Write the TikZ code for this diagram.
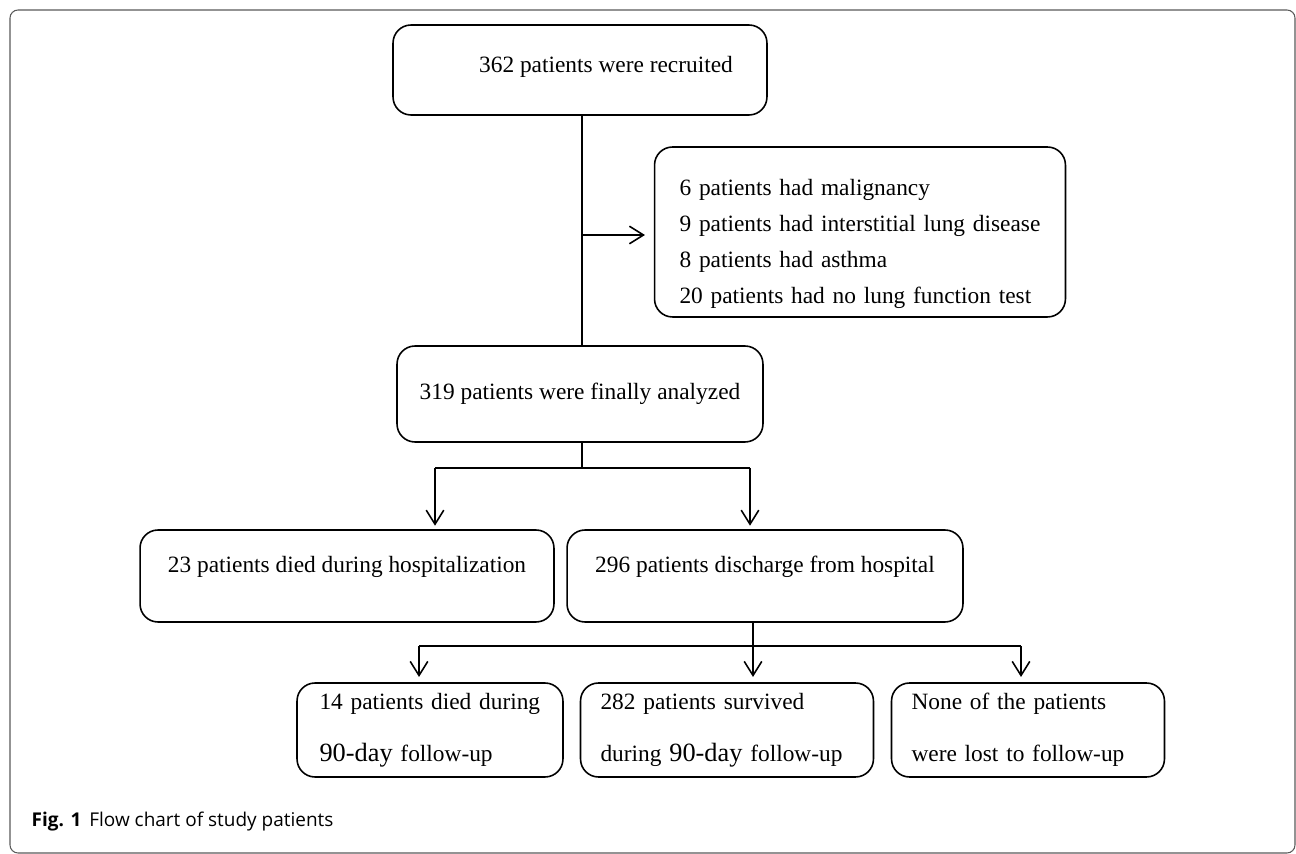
\documentclass[tikz,border=0pt]{standalone}
\usepackage{fontspec}
\setmainfont{Liberation Serif}
\newfontfamily\capfont{Open Sans}
\usetikzlibrary{arrows.meta}

\tikzset{ box/.style={draw, rounded corners=0.36cm, line width=0.9pt, inner sep=0pt, font=\fontsize{13.3}{20.4}\selectfont},
          twoline/.style={box, align=left, inner xsep=0.4cm, minimum height=1.88cm, font=\fontsize{13.3}{29.5}\selectfont} }
\newcommand{\ninetyday}{{\fontsize{15}{15}\selectfont 90-day}}

\begin{document}
\begin{tikzpicture}[x=0.02cm, y=-0.02cm, line width=0.9pt,
    every edge/.style={draw, line width=0.9pt, -{Straight Barb[length=8pt,width=10pt]}}]
        \useasboundingbox (0,0) rectangle (1296,854);
        \draw[black!65, line width=0.6pt, rounded corners=0.16cm] (10,10) rectangle (1295,853);

        \node[box, minimum width=7.48cm, minimum height=1.8cm, text height=0.3cm, text depth=0.2cm] (rec) at (580,70) {\hspace{1.04cm}362 patients were recruited};
        \node[box, minimum height=3.4cm, text width=7.22cm, inner xsep=0.5cm, align=left] (excl) at (860,232) {\rule{0pt}{0.8cm}6 patients had malignancy\\ 9 patients had interstitial lung disease\\ 8 patients had asthma\\ 20 patients had no lung function test};
        \node[box, minimum width=7.32cm, minimum height=1.92cm] (ana) at (580,394) {319 patients were finally analyzed};
        \node[box, minimum width=8.28cm, minimum height=1.84cm, text height=0.3cm, text depth=0.44cm] (hosp) at (347,576) {23 patients died during hospitalization};
        \node[box, minimum width=7.92cm, minimum height=1.84cm, text height=0.3cm, text depth=0.44cm] (disc) at (765,576) {296 patients discharge from hospital};
        \node[twoline, text width=4.42cm, inner xsep=0.45cm] (d90) at (430,730) {14 patients died during\\ \ninetyday{} follow-up};
        \node[twoline, text width=5.06cm] (s90) at (727,730) {282 patients survived\\ during \ninetyday{} follow-up};
        \node[twoline, text width=4.66cm] (lost) at (1028,730) {None of the patients\\ were lost to follow-up};

        \node[anchor=west, font=\capfont\fontsize{10.8}{12}\selectfont] (cap) at (25,822) {\textbf{Fig. 1}\hspace{0.16cm}Flow chart of study patients};

        \coordinate (sp1) at (582,235);
        \coordinate (sp2) at (582,468);
        \coordinate (l2) at (435,468);
        \coordinate (r2) at (750,468);
        \coordinate (sp3) at (753,646);
        \coordinate (l3) at (419,646);
        \coordinate (r3) at (1021,646);

        \draw (sp1 |- rec.south) -- (sp1 |- ana.north);
        \draw (sp2 |- ana.south) -- (sp2);
        \draw (l2) -- (r2);
        \draw (sp3 |- disc.south) -- (sp3);
        \draw (l3) -- (r3);

        \path (sp1) edge[shorten >=5pt] (sp1 -| excl.west)
              (l2) edge[shorten >=2pt] (l2 |- hosp.north)
              (r2) edge[shorten >=2pt] (r2 |- disc.north)
              (l3) edge[shorten >=3pt] (l3 |- d90.north)
              (sp3) edge[shorten >=3pt] (sp3 |- s90.north)
              (r3) edge[shorten >=3pt] (r3 |- lost.north);
\end{tikzpicture}
\end{document}
